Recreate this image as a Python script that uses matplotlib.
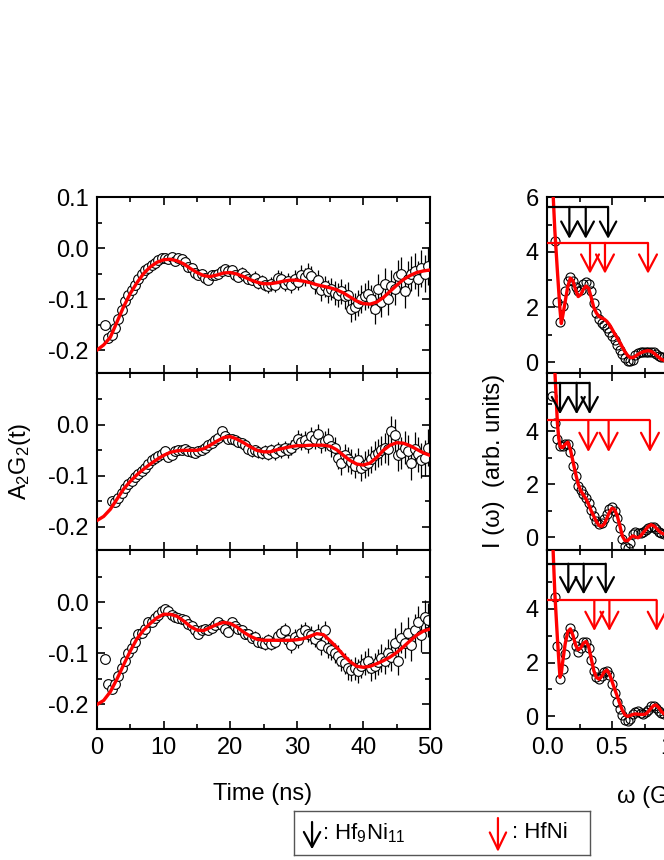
import numpy as np
import matplotlib
matplotlib.use('Agg')
import matplotlib.pyplot as plt
from matplotlib.ticker import MultipleLocator, FixedLocator, FormatStrFormatter

plt.rcParams['font.family'] = ['Liberation Sans', 'DejaVu Sans']
plt.rcParams['mathtext.fontset'] = 'custom'
plt.rcParams['mathtext.rm'] = 'Liberation Sans'
plt.rcParams['mathtext.it'] = 'Liberation Sans:italic'
plt.rcParams['axes.unicode_minus'] = False

# ---------------- time-domain data (left column) ----------------
t_data = np.round(1.2 + 0.5 * np.arange(98), 2)
t_fit = np.arange(0, 51)

r_top = [-0.150, -0.176, -0.170, -0.157, -0.140, -0.122, -0.104, -0.092, -0.082, -0.072,
         -0.060, -0.050, -0.043, -0.040, -0.033, -0.030, -0.024, -0.020, -0.019, -0.021,
         -0.018, -0.026, -0.020, -0.022, -0.028, -0.037, -0.040, -0.048, -0.053, -0.050,
         -0.058, -0.063, -0.052, -0.052, -0.050, -0.045, -0.042, -0.045, -0.043, -0.052,
         -0.056, -0.048, -0.055, -0.060, -0.062, -0.058, -0.068, -0.064, -0.072, -0.075,
         -0.070, -0.073, -0.058, -0.060, -0.070, -0.065, -0.072, -0.060, -0.066, -0.052,
         -0.057, -0.048, -0.055, -0.070, -0.063, -0.082, -0.075, -0.085, -0.080, -0.088,
         -0.092, -0.085, -0.095, -0.092, -0.120, -0.115, -0.108, -0.100, -0.095, -0.090,
         -0.100, -0.120, -0.080, -0.105, -0.070, -0.100, -0.075, -0.080, -0.055, -0.050,
         -0.085, -0.060, -0.050, -0.045, -0.060, -0.040, -0.050, -0.035]
r_mid = [np.nan, np.nan, -0.150, -0.152, -0.143, -0.133, -0.125, -0.117, -0.110, -0.103,
         -0.096, -0.090, -0.084, -0.076, -0.070, -0.066, -0.062, -0.058, -0.052, -0.063,
         -0.060, -0.052, -0.050, -0.049, -0.048, -0.051, -0.054, -0.055, -0.052, -0.050,
         -0.045, -0.040, -0.036, -0.030, -0.025, -0.013, -0.022, -0.027, -0.028, -0.030,
         -0.034, -0.036, -0.040, -0.048, -0.052, -0.050, -0.054, -0.056, -0.052, -0.058,
         -0.050, -0.056, -0.047, -0.052, -0.045, -0.050, -0.045, -0.038, -0.027, -0.033,
         -0.030, -0.038, -0.022, -0.028, -0.017, -0.035, -0.032, -0.028, -0.042, -0.045,
         -0.065, -0.075, -0.060, -0.068, -0.072, -0.080, -0.070, -0.085, -0.078, -0.074,
         -0.068, -0.060, -0.055, -0.050, -0.045, -0.048, -0.012, -0.020, -0.060, -0.055,
         -0.045, -0.052, -0.075, -0.048, -0.058, -0.070, -0.065, -0.045]
r_bot = [-0.112, -0.160, -0.170, -0.160, -0.145, -0.130, -0.115, -0.100, -0.090, -0.078,
         -0.063, -0.060, -0.052, -0.040, -0.040, -0.032, -0.025, -0.018, -0.013, -0.017,
         -0.025, -0.030, -0.032, -0.033, -0.035, -0.043, -0.048, -0.055, -0.062, -0.055,
         -0.052, -0.055, -0.050, -0.045, -0.040, -0.045, -0.052, -0.058, -0.040, -0.048,
         -0.052, -0.055, -0.062, -0.062, -0.070, -0.068, -0.078, -0.080, -0.083, -0.075,
         -0.082, -0.078, -0.066, -0.060, -0.055, -0.075, -0.085, -0.068, -0.075, -0.060,
         -0.055, -0.063, -0.065, -0.072, -0.062, -0.085, -0.055, -0.090, -0.095, -0.100,
         -0.105, -0.115, -0.120, -0.130, -0.133, -0.130, -0.135, -0.125, -0.120, -0.115,
         -0.130, -0.125, -0.118, -0.110, -0.115, -0.100, -0.108, -0.080, -0.115, -0.070,
         -0.080, -0.060, -0.085, -0.055, -0.040, -0.065, -0.030, -0.035]

e_top = [0.004, 0.004, 0.004, 0.004, 0.004, 0.004, 0.004, 0.004, 0.004, 0.004,
         0.004, 0.004, 0.004, 0.004, 0.004, 0.004, 0.004, 0.004, 0.005, 0.005,
         0.005, 0.006, 0.006, 0.006, 0.006, 0.006, 0.007, 0.007, 0.007, 0.007,
         0.007, 0.008, 0.008, 0.008, 0.008, 0.008, 0.009, 0.009, 0.009, 0.010,
         0.010, 0.010, 0.011, 0.011, 0.011, 0.012, 0.012, 0.012, 0.013, 0.013,
         0.014, 0.014, 0.014, 0.015, 0.015, 0.016, 0.016, 0.017, 0.017, 0.018,
         0.018, 0.019, 0.019, 0.020, 0.020, 0.021, 0.021, 0.022, 0.022, 0.023,
         0.023, 0.024, 0.024, 0.025, 0.025, 0.026, 0.026, 0.027, 0.027, 0.028,
         0.028, 0.029, 0.029, 0.030, 0.030, 0.031, 0.031, 0.032, 0.032, 0.033,
         0.033, 0.034, 0.034, 0.035, 0.035, 0.036, 0.036, 0.037]
e_mid = [0.004, 0.004, 0.004, 0.004, 0.004, 0.004, 0.004, 0.004, 0.004, 0.004,
         0.004, 0.004, 0.004, 0.004, 0.004, 0.004, 0.004, 0.004, 0.004, 0.004,
         0.005, 0.005, 0.005, 0.005, 0.006, 0.006, 0.006, 0.006, 0.006, 0.007,
         0.007, 0.007, 0.007, 0.007, 0.008, 0.008, 0.008, 0.008, 0.009, 0.009,
         0.009, 0.010, 0.010, 0.010, 0.011, 0.011, 0.011, 0.012, 0.012, 0.012,
         0.013, 0.013, 0.013, 0.014, 0.014, 0.015, 0.015, 0.016, 0.016, 0.017,
         0.017, 0.018, 0.018, 0.019, 0.019, 0.020, 0.020, 0.021, 0.021, 0.022,
         0.022, 0.023, 0.023, 0.024, 0.024, 0.025, 0.025, 0.026, 0.026, 0.027,
         0.027, 0.028, 0.028, 0.029, 0.029, 0.030, 0.030, 0.031, 0.031, 0.032,
         0.032, 0.033, 0.033, 0.034, 0.034, 0.035, 0.035, 0.036]
e_bot = [0.004, 0.004, 0.004, 0.004, 0.004, 0.004, 0.004, 0.004, 0.004, 0.004,
         0.004, 0.004, 0.004, 0.004, 0.004, 0.004, 0.004, 0.004, 0.004, 0.004,
         0.005, 0.005, 0.005, 0.005, 0.005, 0.006, 0.006, 0.006, 0.006, 0.006,
         0.007, 0.007, 0.007, 0.007, 0.007, 0.008, 0.008, 0.008, 0.008, 0.009,
         0.009, 0.009, 0.010, 0.010, 0.010, 0.011, 0.011, 0.011, 0.012, 0.012,
         0.012, 0.013, 0.013, 0.013, 0.014, 0.014, 0.014, 0.015, 0.015, 0.016,
         0.016, 0.016, 0.017, 0.017, 0.018, 0.018, 0.018, 0.019, 0.019, 0.020,
         0.020, 0.021, 0.021, 0.022, 0.022, 0.023, 0.023, 0.024, 0.024, 0.025,
         0.025, 0.026, 0.026, 0.027, 0.027, 0.028, 0.028, 0.029, 0.029, 0.030,
         0.030, 0.031, 0.031, 0.032, 0.032, 0.033, 0.033, 0.034]

fit_top = [-0.200, -0.190, -0.175, -0.145, -0.115, -0.089, -0.068, -0.050, -0.037, -0.028,
           -0.023, -0.022, -0.025, -0.031, -0.040, -0.048, -0.054, -0.056, -0.053, -0.049,
           -0.048, -0.051, -0.056, -0.062, -0.067, -0.070, -0.070, -0.068, -0.065, -0.063,
           -0.063, -0.065, -0.068, -0.072, -0.075, -0.078, -0.082, -0.088, -0.096, -0.104,
           -0.109, -0.110, -0.106, -0.097, -0.085, -0.073, -0.062, -0.054, -0.048, -0.045,
           -0.043]
fit_mid = [-0.188, -0.180, -0.166, -0.146, -0.126, -0.111, -0.098, -0.087, -0.077, -0.068,
           -0.060, -0.054, -0.051, -0.050, -0.050, -0.050, -0.047, -0.040, -0.032, -0.025,
           -0.023, -0.028, -0.035, -0.043, -0.050, -0.053, -0.053, -0.049, -0.046, -0.043,
           -0.041, -0.041, -0.040, -0.040, -0.040, -0.042, -0.049, -0.060, -0.070, -0.077,
           -0.079, -0.075, -0.064, -0.050, -0.040, -0.035, -0.036, -0.041, -0.048, -0.055,
           -0.060]
fit_bot = [-0.201, -0.193, -0.176, -0.151, -0.123, -0.096, -0.072, -0.055, -0.042, -0.031,
           -0.024, -0.024, -0.028, -0.037, -0.048, -0.055, -0.056, -0.050, -0.044, -0.040,
           -0.042, -0.049, -0.059, -0.067, -0.073, -0.075, -0.075, -0.075, -0.075, -0.075,
           -0.074, -0.072, -0.067, -0.062, -0.064, -0.076, -0.089, -0.104, -0.117, -0.126,
           -0.128, -0.126, -0.121, -0.115, -0.108, -0.099, -0.088, -0.076, -0.065, -0.057,
           -0.053]

# ---------------- frequency-domain data (right column) ----------------
w_data = np.round(0.04 + 0.02 * np.arange(49), 2)
w_fit = [0.00, 0.02, 0.04, 0.06, 0.08, 0.09, 0.10, 0.11,
         0.12, 0.14, 0.16, 0.18, 0.20, 0.22, 0.24, 0.26, 0.28, 0.30,
         0.32, 0.34, 0.36, 0.38, 0.40, 0.42, 0.44, 0.46, 0.48, 0.50,
         0.52, 0.54, 0.56, 0.58, 0.60, 0.62, 0.64, 0.66, 0.68, 0.70,
         0.72, 0.74, 0.76, 0.78, 0.80, 0.82, 0.84, 0.86, 0.88, 0.90,
         0.92, 0.94, 0.96, 0.98, 1.00]

i_top = [np.nan, 4.40, 2.20, 1.45, 2.05, 2.60, 2.95, 3.08, 2.95,
         2.72, 2.58, 2.62, 2.82, 2.90, 2.85, 2.60, 2.15, 1.80, 1.55,
         1.42, 1.35, 1.25, 1.08, 0.95, 0.80, 0.62, 0.45, 0.30, 0.15,
         0.05, 0.02, 0.08, 0.25, 0.33, 0.35, 0.36, 0.37, 0.37, 0.38,
         0.36, 0.30, 0.22, 0.18, 0.20, 0.22, 0.20, 0.15, 0.12, 0.12]
i_mid = [5.30, 4.30, 3.70, 3.45, 3.42, 3.50, 3.50, 3.20, 2.70,
         2.30, 1.95, 1.78, 1.65, 1.50, 1.30, 1.05, 0.82, 0.62, 0.52,
         0.55, 0.68, 0.90, 1.08, 1.15, 1.00, 0.72, 0.35, -0.05, -0.32,
         -0.40, -0.20, 0.12, 0.20, 0.15, 0.15, 0.22, 0.30, 0.35, 0.38,
         0.38, 0.32, 0.22, 0.15, 0.12, 0.12, 0.15, 0.18, 0.20, 0.20]
i_bot = [np.nan, 4.45, 2.60, 1.40, 1.75, 2.30, 3.00, 3.30, 3.05,
         2.60, 2.40, 2.55, 2.75, 2.78, 2.55, 2.10, 1.70, 1.45, 1.38,
         1.50, 1.65, 1.68, 1.52, 1.20, 0.85, 0.55, 0.28, 0.05, -0.12,
         -0.16, -0.08, 0.08, 0.18, 0.20, 0.12, 0.10, 0.15, 0.25, 0.38,
         0.40, 0.32, 0.20, 0.12, 0.10, 0.12, 0.15, 0.18, 0.18, 0.15]

ifit_top = [14.0, 10.4, 6.8, 4.8, 3.3, 2.6, 1.9, 1.4,
            1.65, 2.2, 2.75, 3.05, 2.95, 2.62, 2.38, 2.45, 2.65, 2.76,
            2.68, 2.35, 1.98, 1.78, 1.66, 1.60, 1.56, 1.48, 1.36, 1.20,
            1.03, 0.88, 0.72, 0.54, 0.37, 0.24, 0.16, 0.16, 0.21, 0.28,
            0.33, 0.37, 0.40, 0.41, 0.39, 0.33, 0.25, 0.17, 0.10, 0.06,
            0.05, 0.07, 0.11, 0.14, 0.15]
ifit_mid = [13.0, 11.0, 8.5, 6.3, 4.3, 3.75, 3.45, 3.38,
            3.38, 3.50, 3.58, 3.30, 2.85, 2.40, 2.00, 1.75, 1.60, 1.45,
            1.25, 1.00, 0.80, 0.60, 0.45, 0.42, 0.50, 0.72, 0.95, 1.10,
            1.05, 0.82, 0.45, 0.05, -0.12, -0.12, -0.02, 0.06, 0.02, -0.01,
            0.06, 0.18, 0.30, 0.42, 0.48, 0.44, 0.36, 0.25, 0.17, 0.13,
            0.12, 0.15, 0.20, 0.22, 0.20]
ifit_bot = [14.0, 10.3, 7.0, 4.6, 2.9, 2.15, 1.45, 1.6,
            2.0, 2.7, 3.15, 3.25, 3.0, 2.65, 2.47, 2.55, 2.72, 2.78,
            2.60, 2.15, 1.70, 1.45, 1.38, 1.48, 1.65, 1.72, 1.58, 1.30,
            1.02, 0.75, 0.47, 0.22, 0.05, 0.0, 0.03, 0.07, 0.09, 0.08,
            0.07, 0.07, 0.09, 0.18, 0.30, 0.40, 0.42, 0.32, 0.18, 0.09,
            0.07, 0.10, 0.14, 0.16, 0.15]

# frequency markers (GHz) and their vertical placement
hf911_freqs = [[0.172, 0.298, 0.470], [0.100, 0.228, 0.328], [0.164, 0.282, 0.452]]
hf911_bar = [5.64, 5.81, 5.67]
hf911_tip = [4.48, 4.63, 4.53]
hfni_freqs = [[0.331, 0.446, 0.777], [0.318, 0.474, 0.792], [0.364, 0.480, 0.844]]
hfni_bar = [4.33, 4.40, 4.31]
hfni_tip = [3.21, 3.21, 3.17]

# ---------------- figure ----------------
W, H = 664, 860
fig = plt.figure(figsize=(W / 100, H / 100), dpi=100)
RED = '#ff0000'
FS = 17


def px_axes(x0, y0, x1, y1):
    return fig.add_axes([x0 / W, 1 - y1 / H, (x1 - x0) / W, (y1 - y0) / H])


def style(ax):
    for s in ax.spines.values():
        s.set_linewidth(1.5)
    ax.tick_params(which='both', direction='in', top=True, right=True,
                   labelsize=FS, width=1.2, pad=6)
    ax.tick_params(which='major', length=6)
    ax.tick_params(which='minor', length=3.5)


rows = [(197, 373), (373, 550), (550, 729)]
r_sets = [r_top, r_mid, r_bot]
e_sets = [e_top, e_mid, e_bot]
f_sets = [fit_top, fit_mid, fit_bot]
ylims_l = [(-0.245, 0.10), (-0.246, 0.102), (-0.249, 0.102)]

for k, (y0, y1) in enumerate(rows):
    ax = px_axes(97, y0, 430, y1)
    style(ax)
    ax.errorbar(t_data, r_sets[k], yerr=e_sets[k], fmt='o', ms=7, mfc='white',
                mec='black', mew=0.8, ecolor='black', elinewidth=0.9,
                capsize=0, zorder=2)
    ax.plot(t_fit, f_sets[k], color=RED, lw=2.4, zorder=3)
    ax.set_xlim(0, 50)
    ax.set_ylim(*ylims_l[k])
    ax.xaxis.set_major_locator(MultipleLocator(10))
    ax.xaxis.set_minor_locator(MultipleLocator(5))
    if k == 0:
        ax.yaxis.set_major_locator(FixedLocator([-0.2, -0.1, 0.0, 0.1]))
    else:
        ax.yaxis.set_major_locator(FixedLocator([-0.2, -0.1, 0.0]))
    ax.yaxis.set_minor_locator(FixedLocator([-0.15, -0.05, 0.05]))
    ax.yaxis.set_major_formatter(FormatStrFormatter('%.1f'))
    ax.xaxis.set_major_formatter(FormatStrFormatter('%d'))
    if k < 2:
        ax.tick_params(labelbottom=False)

i_sets = [i_top, i_mid, i_bot]
if_sets = [ifit_top, ifit_mid, ifit_bot]
ylims_r = [(-0.4, 6.0), (-0.47, 6.18), (-0.47, 6.18)]

for k, (y0, y1) in enumerate(rows):
    ax = px_axes(547, y0, 872, y1)
    style(ax)
    ax.plot(w_data, i_sets[k], 'o', ms=6.5, mfc='none', mec='black', mew=0.8, zorder=2)
    ax.plot(w_fit, if_sets[k], color=RED, lw=2.4, zorder=3)
    ax.set_xlim(0, 2.5)
    ax.set_ylim(*ylims_r[k])
    ax.xaxis.set_major_locator(MultipleLocator(0.5))
    ax.xaxis.set_minor_locator(MultipleLocator(0.25))
    ax.xaxis.set_major_formatter(FormatStrFormatter('%.1f'))
    if k == 0:
        ax.yaxis.set_major_locator(FixedLocator([0, 2, 4, 6]))
    else:
        ax.yaxis.set_major_locator(FixedLocator([0, 2, 4]))
    ax.yaxis.set_minor_locator(FixedLocator([1, 3, 5]))
    ax.yaxis.set_major_formatter(FormatStrFormatter('%d'))
    if k < 2:
        ax.tick_params(labelbottom=False)
    # frequency markers
    for freqs, bar, tip, col, hl, hw in [
            (hf911_freqs[k], hf911_bar[k], hf911_tip[k], 'black', 0.77, 0.42),
            (hfni_freqs[k], hfni_bar[k], hfni_tip[k], RED, 0.87, 0.46)]:
        ax.plot([0, max(freqs)], [bar, bar], color=col, lw=1.6, zorder=4,
                solid_capstyle='butt')
        for f in freqs:
            ax.annotate('', xy=(f, tip), xytext=(f, bar),
                        arrowprops=dict(arrowstyle=f'->,head_length={hl},head_width={hw}',
                                        mutation_scale=14,
                                        color=col, lw=1.6, shrinkA=0, shrinkB=0),
                        zorder=4)

# axis labels
fig.text(20 / W, 1 - 461 / H, 'A$_2$G$_2$(t)', rotation=90, ha='center', va='center', fontsize=FS)
fig.text(494 / W, 1 - 461 / H, 'I (ω)  (arb. units)', rotation=90, ha='center', va='center', fontsize=FS)
fig.text(263 / W, 1 - 800 / H, 'Time (ns)', ha='center', va='baseline', fontsize=FS)
fig.text(617 / W, 1 - 803 / H, 'ω (Grad/s)', ha='left', va='baseline', fontsize=FS)

# legend box
lg = px_axes(294, 811, 590, 855)
lg.set_xlim(0, 1)
lg.set_ylim(0, 1)
lg.set_xticks([])
lg.set_yticks([])
for s in lg.spines.values():
    s.set_linewidth(1.0)
    s.set_edgecolor('#555555')
lg.annotate('', xy=(0.061, 0.13), xytext=(0.061, 0.75),
            arrowprops=dict(arrowstyle='->,head_length=0.77,head_width=0.42',
                            mutation_scale=14,
                            color='black', lw=1.6, shrinkA=0, shrinkB=0))
lg.text(0.095, 0.5, ': Hf$_9$Ni$_{11}$', ha='left', va='center', fontsize=16)
lg.annotate('', xy=(0.689, 0.07), xytext=(0.689, 0.84),
            arrowprops=dict(arrowstyle='->,head_length=0.87,head_width=0.42',
                            mutation_scale=14,
                            color=RED, lw=1.6, shrinkA=0, shrinkB=0))
lg.text(0.735, 0.5, ': HfNi', ha='left', va='center', fontsize=16)

fig.savefig('out.png', dpi=100)
